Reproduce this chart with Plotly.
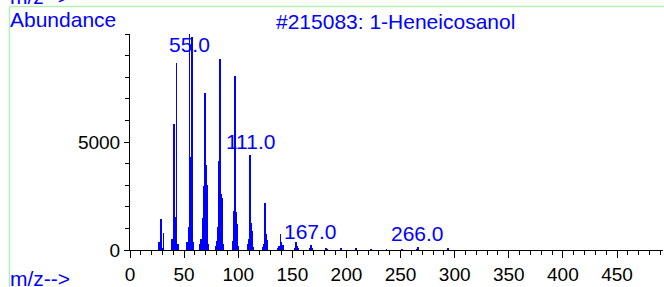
import plotly.graph_objects as go

# ---- data ----
mz = [27, 28, 29, 30, 31, 39, 40, 41, 42, 43, 44,
      53, 54, 55, 56, 57, 58,
      65, 66, 67, 68, 69, 70, 71, 72,
      79, 80, 81, 82, 83, 84, 85, 86,
      95, 96, 97, 98, 99, 100,
      109, 110, 111, 112, 113, 114,
      123, 124, 125, 126, 127,
      137, 138, 139, 140, 141,
      152, 153, 154, 155,
      166, 167, 168,
      181, 182, 195, 209, 223, 237, 251, 265, 266, 294]
abundance = [370, 150, 1420, 100, 800, 490, 150, 5850, 1540, 8660, 300,
             380, 1080, 10000, 4300, 9850, 370,
             300, 500, 1500, 2970, 7290, 3920, 3000, 300,
             200, 400, 1080, 4100, 8850, 2615, 2400, 300,
             400, 1800, 8050, 1750, 1200, 200,
             300, 500, 4415, 1230, 900, 150,
             150, 300, 2185, 720, 450,
             100, 200, 740, 350, 250,
             100, 385, 200, 100,
             60, 220, 100,
             110, 40, 75, 50, 40, 35, 30, 40, 120, 80]
label_mz = [55.0, 111.0, 167.0, 266.0]
ytick_vals = [0, 5000]
ytick_text = ["0", "5000"]

title_text = "#215083: 1-Heneicosanol"
ylabel_text = "Abundance"
xlabel_text = "m/z-->"

BLUE = "#0000ff"
GREEN = "#b4f0b4"
FONT = "Liberation Sans, Arial, sans-serif"

W, H = 664, 287
L, R, T, B = 130, 1, 34, 37
PW, PH = W - L - R, H - T - B


def px2x(px):
    return (px - L) / PW


def py2y(py):
    return (H - B - py) / PH


fig = go.Figure()
fig.add_trace(go.Bar(x=mz, y=abundance, width=0.8,
                     marker=dict(color=BLUE, line=dict(width=0)),
                     hoverinfo="x+y"))

# peak labels
lookup = dict(zip(mz, abundance))
for lm in label_mz:
    v = lookup[int(lm)]
    yv = min(max(v, 150), 8900)
    fig.add_annotation(x=lm, y=yv, xref="x", yref="y", text=f"{lm:.1f}",
                       showarrow=False, yanchor="bottom", xanchor="center",
                       font=dict(family=FONT, size=21, color=BLUE))

# texts
fig.add_annotation(x=px2x(8), y=py2y(20), xref="paper", yref="paper",
                   text=ylabel_text, showarrow=False, xanchor="left", yanchor="middle",
                   font=dict(family=FONT, size=21, color=BLUE))
fig.add_annotation(x=px2x(395), y=py2y(21), xref="paper", yref="paper",
                   text=title_text, showarrow=False, xanchor="center", yanchor="middle",
                   font=dict(family=FONT, size=21, color=BLUE))
fig.add_annotation(x=px2x(8), y=py2y(278), xref="paper", yref="paper",
                   text=xlabel_text, showarrow=False, xanchor="left", yanchor="middle",
                   font=dict(family=FONT, size=21, color=BLUE))
# cut-off label of the panel above
fig.add_annotation(x=px2x(8), y=py2y(-4), xref="paper", yref="paper",
                   text=xlabel_text, showarrow=False, xanchor="left", yanchor="middle",
                   font=dict(family=FONT, size=21, color=BLUE))

# green frame lines
fig.add_shape(type="line", xref="paper", yref="paper",
              x0=px2x(9.5), x1=px2x(700), y0=py2y(6.5), y1=py2y(6.5),
              line=dict(color=GREEN, width=1.5))
fig.add_shape(type="line", xref="paper", yref="paper",
              x0=px2x(9.5), x1=px2x(9.5), y0=py2y(6.5), y1=py2y(300),
              line=dict(color=GREEN, width=1.5))

axis_font = dict(family=FONT, size=19, color="black")
fig.update_xaxes(range=[0, 492.5], tickmode="linear", tick0=0, dtick=50,
                 ticks="outside", ticklen=7, tickwidth=1, tickcolor="black",
                 minor=dict(tickmode="linear", tick0=0, dtick=10, ticks="outside",
                            ticklen=4, tickcolor="black", tickwidth=1),
                 showline=True, linecolor="black", linewidth=1,
                 showgrid=False, zeroline=False, tickfont=axis_font)
fig.update_yaxes(range=[0, 10000], tickmode="array", tickvals=ytick_vals, ticktext=ytick_text,
                 ticks="outside", ticklen=5, tickwidth=1, tickcolor="black",
                 minor=dict(tickmode="linear", tick0=0, dtick=1000, ticks="outside",
                            ticklen=4, tickcolor="black", tickwidth=1),
                 showline=True, linecolor="black", linewidth=1,
                 showgrid=False, zeroline=False, tickfont=axis_font)

fig.update_layout(width=W, height=H, margin=dict(l=L, r=R, t=T, b=B, autoexpand=False),
                  paper_bgcolor="white", plot_bgcolor="white",
                  showlegend=False, bargap=0)

fig.write_html("out.html", config={"displayModeBar": False},
               post_script="document.body.style.margin='0';document.body.style.overflow='hidden';")
